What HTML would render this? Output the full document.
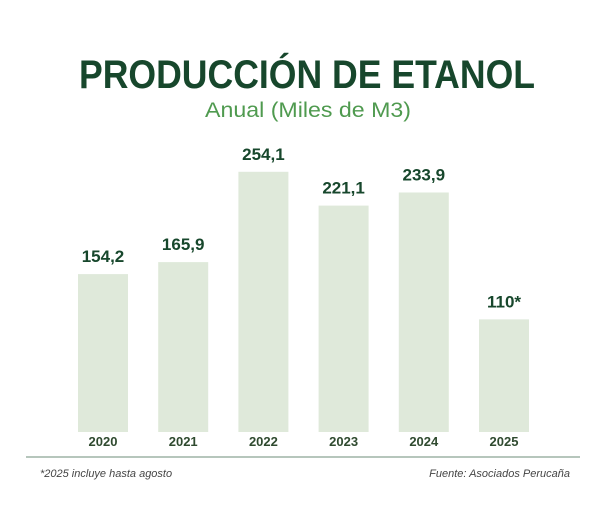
<!DOCTYPE html>
<html><head><meta charset="utf-8"><style>
html,body{margin:0;padding:0;background:#fff;}
svg{display:block;font-family:"Liberation Sans",sans-serif;}
</style></head><body>
<svg id="chart" width="605" height="508" viewBox="0 0 605 508">
<text x="307" y="88" text-anchor="middle" font-size="40" font-weight="bold" fill="#17472c" textLength="456" lengthAdjust="spacingAndGlyphs">PRODUCCIÓN DE ETANOL</text>
<text x="308" y="117" text-anchor="middle" font-size="21" fill="#4f9a4f" textLength="206" lengthAdjust="spacingAndGlyphs">Anual (Miles de M3)</text>
<g id="bars"></g>
<line x1="26" y1="457" x2="580" y2="457" stroke="#8aa595" stroke-width="1.2"/>
<text x="40" y="477" font-size="11" font-style="italic" fill="#444">*2025 incluye hasta agosto</text>
<text x="570" y="477" text-anchor="end" font-size="11" font-style="italic" fill="#444">Fuente: Asociados Perucaña</text>
</svg>
<script>
const categories = ["2020","2021","2022","2023","2024","2025"];
const values = [154.2,165.9,254.1,221.1,233.9,110];
const valueLabels = ["154,2","165,9","254,1","221,1","233,9","110*"];
const ns = "http://www.w3.org/2000/svg";
const baseY = 432, pxPerUnit = 1.024;
const x0 = 78, step = 80.2, barW = 50;
function xPos(i){ return x0 + i*step; }
function yPos(v){ return baseY - v*pxPerUnit; }
const g = document.getElementById("bars");
categories.forEach((c,i)=>{
  const x = xPos(i), y = yPos(values[i]);
  const r = document.createElementNS(ns,"rect");
  
  
  r.setAttribute("x",x); r.setAttribute("y",y);
  r.setAttribute("width",barW); r.setAttribute("height",baseY-y);
  r.setAttribute("fill","#dfe9da");
  g.appendChild(r);
  const t = document.createElementNS(ns,"text");
  
  
  t.setAttribute("x",x+barW/2); t.setAttribute("y",y-12);
  t.setAttribute("text-anchor","middle"); t.setAttribute("font-size","17");
  t.setAttribute("font-weight","bold"); t.setAttribute("fill","#17472c");
  t.textContent = valueLabels[i];
  g.appendChild(t);
  const l = document.createElementNS(ns,"text");
  
  
  l.setAttribute("x",x+barW/2); l.setAttribute("y",446);
  l.setAttribute("text-anchor","middle"); l.setAttribute("font-size","13");
  l.setAttribute("font-weight","bold"); l.setAttribute("fill","#2f4a2f");
  l.textContent = c;
  g.appendChild(l);
});
</script>
</body></html>
